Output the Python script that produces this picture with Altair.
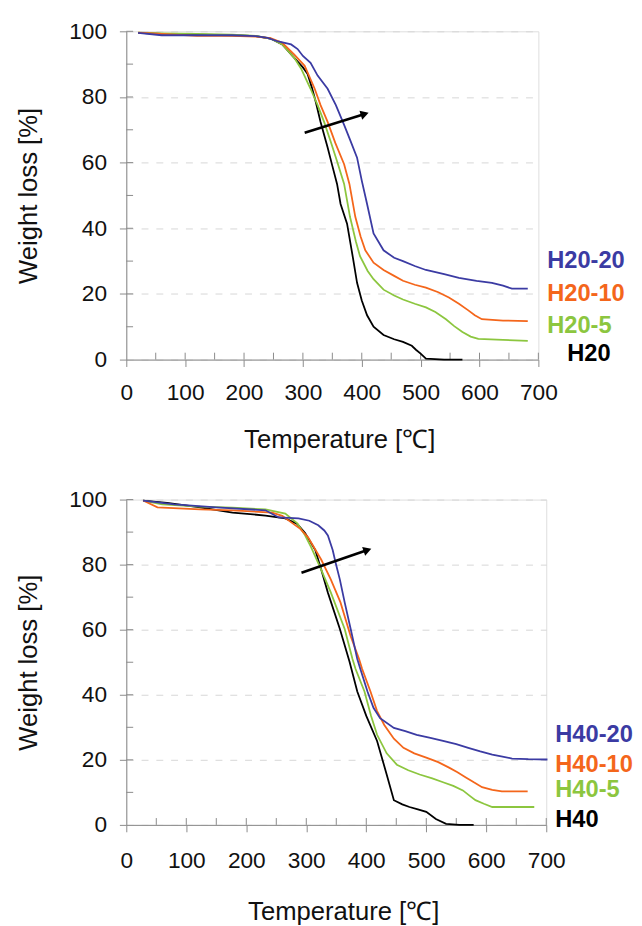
import altair as alt
import pandas as pd

FONT = "Liberation Sans"

# ---------------- top panel: H20 series ----------------
top_names = ["H20", "H20-5", "H20-10", "H20-20"]

h20_t = [20, 60, 120, 180, 220, 245, 265, 285, 300, 308, 315, 322, 330, 342, 350, 358, 364, 375, 385, 392, 400, 409, 420, 437, 455, 470, 485, 492, 500, 509, 540, 571]
h20_w = [99.5, 99.2, 99, 98.8, 98.5, 97.8, 96, 92, 89, 87, 83, 78.4, 72.4, 64.6, 59, 53.5, 47.4, 41.4, 31, 23.4, 18, 13.5, 10, 7.5, 6.2, 5.4, 4.2, 3, 1.8, 0.3, 0, 0]

h20_5_t = [20, 60, 120, 180, 220, 245, 265, 285, 297, 313, 325, 336, 348, 358, 370, 380, 390, 397, 410, 420, 437, 455, 470, 490, 509, 525, 543, 557, 571, 585, 598, 640, 682]
h20_5_w = [99.6, 99.4, 99.2, 99, 98.6, 97.8, 96, 92, 88.6, 82.5, 77.5, 72.4, 66, 60.4, 53.5, 43.5, 36, 31.5, 27, 24.5, 21.3, 19.5, 18.3, 17, 15.9, 14.5, 12.3, 10.2, 8.4, 7, 6.3, 6, 5.7]

h20_10_t = [20, 60, 120, 180, 220, 245, 265, 285, 303, 320, 330, 342, 355, 370, 379, 389, 398, 406, 420, 437, 455, 470, 490, 509, 530, 548, 565, 581, 592, 604, 640, 682]
h20_10_w = [99.6, 99.2, 98.6, 98.6, 98.4, 97.9, 96.5, 93, 89.5, 82.5, 77.5, 72.4, 66, 59.5, 53.5, 43.5, 37.5, 33.3, 29.5, 27.3, 25.5, 24, 22.8, 21.9, 20.5, 18.9, 17, 15, 13.5, 12.3, 11.9, 11.7]

h20_20_t = [20, 60, 120, 180, 220, 240, 258, 280, 291, 300, 313, 325, 342, 356, 370, 380, 392, 400, 409, 420, 437, 455, 470, 490, 509, 540, 565, 595, 621, 640, 655, 682]
h20_20_w = [99.5, 98.8, 98.8, 98.8, 98.5, 98, 96.9, 96, 94.6, 92.5, 90.4, 86.5, 82.5, 77.5, 71.5, 67, 61.5, 54.5, 47.4, 38.4, 33.3, 31, 30, 28.5, 27.3, 26, 24.9, 24, 23.4, 22.5, 21.6, 21.6]

top_label_t = [749, 715, 715, 715]
top_label_w = [1.8, 10.2, 19.8, 30]
top_arrow_t = [303, 405]
top_arrow_w = [69.1, 74.8]

# ---------------- bottom panel: H40 series ----------------
bot_names = ["H40", "H40-5", "H40-10", "H40-20"]

h40_t = [28, 68, 123, 177, 232, 265, 285, 298, 315, 325, 336, 356, 372, 385, 400, 418, 434, 446, 460, 472, 486, 500, 516, 533, 555, 579]
h40_w = [99.7, 99, 97.6, 96, 95.1, 94.2, 92.5, 89.7, 84.5, 78.4, 71.4, 60.2, 50.2, 41, 33.5, 25.8, 15.5, 7.6, 6.3, 5.5, 4.8, 4, 1.8, 0.3, 0, 0]

h40_5_t = [28, 60, 123, 177, 232, 265, 285, 298, 308, 325, 341, 364, 377, 382, 397, 408, 418, 434, 451, 470, 489, 510, 528, 545, 561, 572, 582, 596, 610, 640, 680]
h40_5_w = [99.7, 98.5, 97.8, 97.5, 97, 95.7, 92.7, 89, 85.4, 78.4, 71.4, 60.2, 51, 48, 41, 33.5, 27.7, 22, 18.5, 16.8, 15.5, 14.3, 13.1, 12, 10.6, 9, 7.6, 6.5, 5.5, 5.5, 5.5]

h40_10_t = [28, 52, 123, 177, 243, 260, 275, 290, 303, 325, 341, 357, 374, 388, 393, 407, 418, 430, 446, 462, 480, 500, 520, 538, 552, 566, 580, 593, 610, 626, 669]
h40_10_w = [99.7, 97.6, 97, 96.7, 96, 95, 93, 91, 88.4, 81.5, 75.4, 68.4, 58, 51, 48, 41, 35, 30.7, 26.5, 23.7, 22, 20.7, 19.3, 17.6, 16.2, 14.6, 13, 11.6, 10.8, 10.3, 10.3]

h40_20_t = [28, 80, 150, 232, 254, 287, 305, 320, 330, 336, 344, 349, 356, 364, 374, 385, 390, 402, 412, 423, 446, 465, 484, 505, 528, 550, 570, 590, 610, 627, 643, 670, 702]
h40_20_w = [99.7, 98.5, 97.6, 96.7, 94.5, 94.2, 93.5, 92.1, 90.5, 89, 84.5, 80.5, 75.4, 68.4, 60.2, 51, 48, 41, 36, 32.8, 29.8, 28.8, 27.7, 26.8, 25.8, 24.8, 23.7, 22.6, 21.6, 21, 20.4, 20.2, 20.1]

bot_label_t = [715, 715, 715, 715]
bot_label_w = [1.5, 10.6, 18.5, 27.7]
bot_arrow_t = [292, 402]
bot_arrow_w = [77.5, 84.5]

colors = ["#000000", "#8cc63f", "#f4661b", "#3b3ba3"]

x_major = list(range(0, 701, 100))
x_minor = list(range(50, 701, 50))
y_major = list(range(0, 101, 20))
y_minor = list(range(10, 101, 10))

AXIS_GREY = "#8a8a8a"


def panel(names, ts, ws, lab_t, lab_w, arr_t, arr_w, w, h, head_angle, lpad, tpad):
    rows = []
    for n, tt, ww in zip(names, ts, ws):
        for a, b in zip(tt, ww):
            rows.append({"series": n, "T": a, "W": b})
    df = pd.DataFrame(rows)

    xaxis = alt.Axis(
        values=x_major, title="Temperature [℃]", grid=False, tickSize=7,
        labelPadding=lpad, titlePadding=tpad, labelFlush=False,
        labelFontSize=23, titleFontSize=26, labelFont=FONT, titleFont=FONT,
        titleFontWeight="normal", labelColor="#111", titleColor="#111",
        domainColor=AXIS_GREY, tickColor=AXIS_GREY, titleX=w / 2 + 7,
    )
    yaxis = alt.Axis(
        values=y_major, title="Weight loss [%]", tickSize=7,
        labelPadding=13, titlePadding=28, labelFlush=False,
        labelFontSize=23, titleFontSize=26, labelFont=FONT, titleFont=FONT,
        titleFontWeight="normal", labelColor="#111", titleColor="#111",
        domainColor=AXIS_GREY, tickColor=AXIS_GREY,
        grid=True, gridColor="#d6d6d6", gridDash=[7, 8],
    )
    x = alt.X("T:Q", scale=alt.Scale(domain=[0, 700], nice=False), axis=xaxis)
    y = alt.Y("W:Q", scale=alt.Scale(domain=[0, 100], nice=False), axis=yaxis)
    color = alt.Color("series:N", scale=alt.Scale(domain=names, range=colors), legend=None)

    # inward tick marks (minor and major) along both axes
    xt_df = pd.DataFrame({"T": x_minor, "W": [0] * len(x_minor), "W2": [2.1] * len(x_minor)})
    xticks_in = alt.Chart(xt_df).mark_rule(color=AXIS_GREY, strokeWidth=1).encode(
        x=x, y=y, y2="W2:Q"
    )
    yt_df = pd.DataFrame({"W": y_minor, "T": [0] * len(y_minor), "T2": [11.5] * len(y_minor)})
    yticks_in = alt.Chart(yt_df).mark_rule(color=AXIS_GREY, strokeWidth=1).encode(
        x=x, x2="T2:Q", y=y
    )

    lines = alt.Chart(df).mark_line(strokeWidth=1.8).encode(
        x=x, y=y, color=color, detail="series:N"
    )
    lab_df = pd.DataFrame({"series": names, "T": lab_t, "W": lab_w})
    labels = alt.Chart(lab_df).mark_text(
        align="left", baseline="middle", fontSize=24, fontWeight="bold", font=FONT
    ).encode(x=x, y=y, text="series:N", color=color)

    arr_df = pd.DataFrame({"T": arr_t, "W": arr_w})
    shaft = alt.Chart(arr_df).mark_line(color="black", strokeWidth=2.6).encode(x=x, y=y)
    head_df = pd.DataFrame({"T": arr_t[-1:], "W": arr_w[-1:]})
    head = alt.Chart(head_df).mark_point(
        shape="triangle-right", filled=True, size=90, angle=head_angle,
        color="black", opacity=1
    ).encode(x=x, y=y)

    return alt.layer(xticks_in, yticks_in, lines, shaft, head, labels).properties(width=w, height=h)


top = panel(top_names, [h20_t, h20_5_t, h20_10_t, h20_20_t], [h20_w, h20_5_w, h20_10_w, h20_20_w],
            top_label_t, top_label_w, top_arrow_t, top_arrow_w, 418, 333, 343, 15, 23)
bot = panel(bot_names, [h40_t, h40_5_t, h40_10_t, h40_20_t], [h40_w, h40_5_w, h40_10_w, h40_20_w],
            bot_label_t, bot_label_w, bot_arrow_t, bot_arrow_w, 426, 330, 341, 18, 27)

chart = alt.vconcat(top, bot, spacing=35).properties(
    padding={"left": 7, "top": 5, "right": 0, "bottom": 0}
).configure_view(stroke=None).configure(font=FONT)

chart.save("out.html", embed_options={"renderer": "svg", "actions": False})
